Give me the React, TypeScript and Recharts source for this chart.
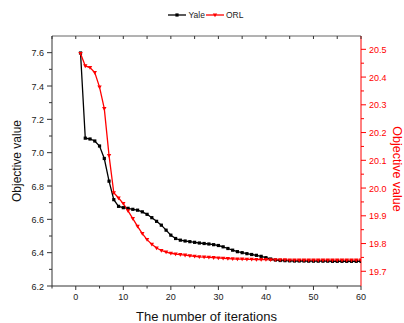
import { ComposedChart, Line, XAxis, YAxis, Legend } from "recharts";

const iterations = [
  1, 2, 3, 4, 5, 6, 7, 8, 9, 10, 11, 12, 13, 14, 15, 16, 17, 18, 19, 20,
  21, 22, 23, 24, 25, 26, 27, 28, 29, 30, 31, 32, 33, 34, 35, 36, 37, 38, 39, 40,
  41, 42, 43, 44, 45, 46, 47, 48, 49, 50, 51, 52, 53, 54, 55, 56, 57, 58, 59, 60,
];

const yale = [
  7.598, 7.087, 7.082, 7.07, 7.04, 6.965, 6.829, 6.718, 6.678, 6.67,
  6.666, 6.66, 6.655, 6.645, 6.63, 6.61, 6.588, 6.565, 6.535, 6.505,
  6.485, 6.475, 6.47, 6.466, 6.462, 6.458, 6.455, 6.452, 6.448, 6.443,
  6.435, 6.425, 6.415, 6.406, 6.4, 6.394, 6.389, 6.384, 6.378, 6.37,
  6.362, 6.356, 6.353, 6.352, 6.351, 6.35, 6.35, 6.35, 6.349, 6.349,
  6.349, 6.349, 6.349, 6.348, 6.348, 6.348, 6.348, 6.348, 6.348, 6.348,
];

const orl = [
  20.485, 20.44, 20.434, 20.416, 20.364, 20.286, 20.117, 19.983, 19.964, 19.944,
  19.918, 19.89, 19.862, 19.836, 19.814, 19.797, 19.784, 19.775, 19.769, 19.765,
  19.762, 19.76, 19.758, 19.756, 19.754, 19.752, 19.751, 19.75, 19.749, 19.748,
  19.747, 19.746, 19.745, 19.744, 19.744, 19.743, 19.743, 19.742, 19.742, 19.742,
  19.741, 19.741, 19.741, 19.741, 19.74, 19.74, 19.74, 19.74, 19.74, 19.74,
  19.74, 19.74, 19.74, 19.74, 19.74, 19.74, 19.74, 19.74, 19.74, 19.74,
];

const xTicks = [-5, 0, 5, 10, 15, 20, 25, 30, 35, 40, 45, 50, 55, 60];
const leftTicks = [6.2, 6.3, 6.4, 6.5, 6.6, 6.7, 6.8, 6.9, 7.0, 7.1, 7.2, 7.3, 7.4, 7.5, 7.6];
const rightTicks = [
  19.7, 19.75, 19.8, 19.85, 19.9, 19.95, 20.0, 20.05, 20.1, 20.15, 20.2, 20.25, 20.3, 20.35, 20.4, 20.45, 20.5,
];

const RED = "#FF0000";
const FONT = "'Liberation Sans', Arial, sans-serif";

const data = iterations.map((n, i) => ({ n, yale: yale[i], orl: orl[i] }));

const isMajor = (v: number, step: number) => Math.abs(v / step - Math.round(v / step)) < 1e-6;

const BottomTick = (p: any) => {
  const v = p.payload.value;
  const major = isMajor(v, 10);
  return (
    <g>
      <line x1={p.x} x2={p.x} y1={p.y} y2={p.y + (major ? 4 : 2.5)} stroke="#333" />
      {major && (
        <text x={p.x} y={p.y + 14} textAnchor="middle" fontSize={9} fontFamily={FONT} fill="#222">
          {v}
        </text>
      )}
    </g>
  );
};

const TopTick = (p: any) => (
  <line x1={p.x} x2={p.x} y1={p.y} y2={p.y + 3} stroke="#333" />
);

const LeftTick = (p: any) => {
  const v = p.payload.value;
  const major = isMajor(v - 6.2, 0.2);
  return (
    <g>
      <line x1={p.x - (major ? 5 : 3)} x2={p.x} y1={p.y} y2={p.y} stroke="#333" />
      {major && (
        <text x={p.x - 8} y={p.y + 3.5} textAnchor="end" fontSize={9} fontFamily={FONT} fill="#222">
          {v.toFixed(1)}
        </text>
      )}
    </g>
  );
};

const RightTick = (p: any) => {
  const v = p.payload.value;
  const major = isMajor(v, 0.1);
  return (
    <g>
      <line x1={p.x} x2={p.x + (major ? 5 : 3)} y1={p.y} y2={p.y} stroke={RED} />
      {major && (
        <text x={p.x + 8} y={p.y + 3.5} textAnchor="start" fontSize={9} fontFamily={FONT} fill={RED}>
          {v.toFixed(1)}
        </text>
      )}
    </g>
  );
};

const SquareDot = (p: any) => (
  <rect key={`y-${p.index}`} x={p.cx - 1.6} y={p.cy - 1.6} width={3.2} height={3.2} fill="#000" />
);

const TriDot = (p: any) => (
  <path
    key={`o-${p.index}`}
    d={`M${p.cx - 2.2},${p.cy - 1.6} L${p.cx + 2.2},${p.cy - 1.6} L${p.cx},${p.cy + 2.2} Z`}
    fill={RED}
  />
);

const LegendContent = () => (
  <svg width={404} height={29}>
    <line x1={168} x2={186} y1={15} y2={15} stroke="#000" strokeWidth={1.3} />
    <rect x={175.4} y={13.4} width={3.2} height={3.2} fill="#000" />
    <text x={188.5} y={18.2} fontSize={8.5} fontFamily={FONT} fill="#222">Yale</text>
    <line x1={206} x2={224} y1={15} y2={15} stroke={RED} strokeWidth={1.3} />
    <path d="M212.8,13.4 L217.2,13.4 L215,17.2 Z" fill={RED} />
    <text x={226} y={18.2} fontSize={8.5} fontFamily={FONT} fill="#222">ORL</text>
  </svg>
);

const App = () => (
  <div style={{ position: "absolute", left: 0, top: 0, width: 404, height: 323, background: "#fff" }}>
    <ComposedChart width={404} height={323} data={data} margin={{ top: 6, right: 0, bottom: 0, left: 0 }}>
      <Legend verticalAlign="top" content={LegendContent} wrapperStyle={{ top: 0, left: 0, width: 404, height: 29 }} />
      <XAxis
        xAxisId="top"
        orientation="top"
        dataKey="n"
        type="number"
        domain={[-5, 60]}
        ticks={xTicks}
        interval={0}
        height={1}
        tickSize={0}
        tickMargin={0}
        tickLine={false}
        tick={TopTick}
        stroke="#666"
        allowDataOverflow
      />
      <XAxis
        dataKey="n"
        type="number"
        domain={[-5, 60]}
        ticks={xTicks}
        interval={0}
        height={37}
        tickSize={0}
        tickMargin={0}
        tickLine={false}
        tick={BottomTick}
        stroke="#333"
        allowDataOverflow
        label={{ value: "The number of iterations", position: "insideBottom", offset: 2, fontSize: 13, fontFamily: FONT, fill: "#111" }}
      />
      <YAxis
        yAxisId="left"
        domain={[6.2, 7.7]}
        ticks={leftTicks}
        interval={0}
        width={52}
        tickSize={0}
        tickMargin={0}
        tickLine={false}
        tick={LeftTick}
        stroke="#333"
        allowDataOverflow
        label={{
          content: (props: any) => {
            const vb = props.viewBox;
            const cx = vb.x + 17;
            const cy = vb.y + vb.height / 2;
            return (
              <text x={cx} y={cy} transform={`rotate(-90 ${cx} ${cy})`} textAnchor="middle" dominantBaseline="central" fontSize={12} fontFamily={FONT} fill="#111">
                Objective value
              </text>
            );
          },
        }}
      />
      <YAxis
        yAxisId="right"
        orientation="right"
        domain={[19.647, 20.548]}
        ticks={rightTicks}
        interval={0}
        width={43}
        tickSize={0}
        tickMargin={0}
        tickLine={false}
        tick={RightTick}
        stroke={RED}
        allowDataOverflow
        label={{
          content: (props: any) => {
            const vb = props.viewBox;
            const cx = vb.x + 35.5;
            const cy = vb.y + vb.height / 2 + 8;
            return (
              <text x={cx} y={cy} transform={`rotate(90 ${cx} ${cy})`} textAnchor="middle" dominantBaseline="central" fontSize={12.5} fontFamily={FONT} fill={RED}>
                Objective value
              </text>
            );
          },
        }}
      />
      <Line
        yAxisId="left"
        dataKey="yale"
        stroke="#000"
        strokeWidth={1.3}
        dot={SquareDot}
        activeDot={false}
        isAnimationActive={false}
      />
      <Line
        yAxisId="right"
        dataKey="orl"
        stroke={RED}
        strokeWidth={1.3}
        dot={TriDot}
        activeDot={false}
        isAnimationActive={false}
      />
    </ComposedChart>
  </div>
);

export default App;
